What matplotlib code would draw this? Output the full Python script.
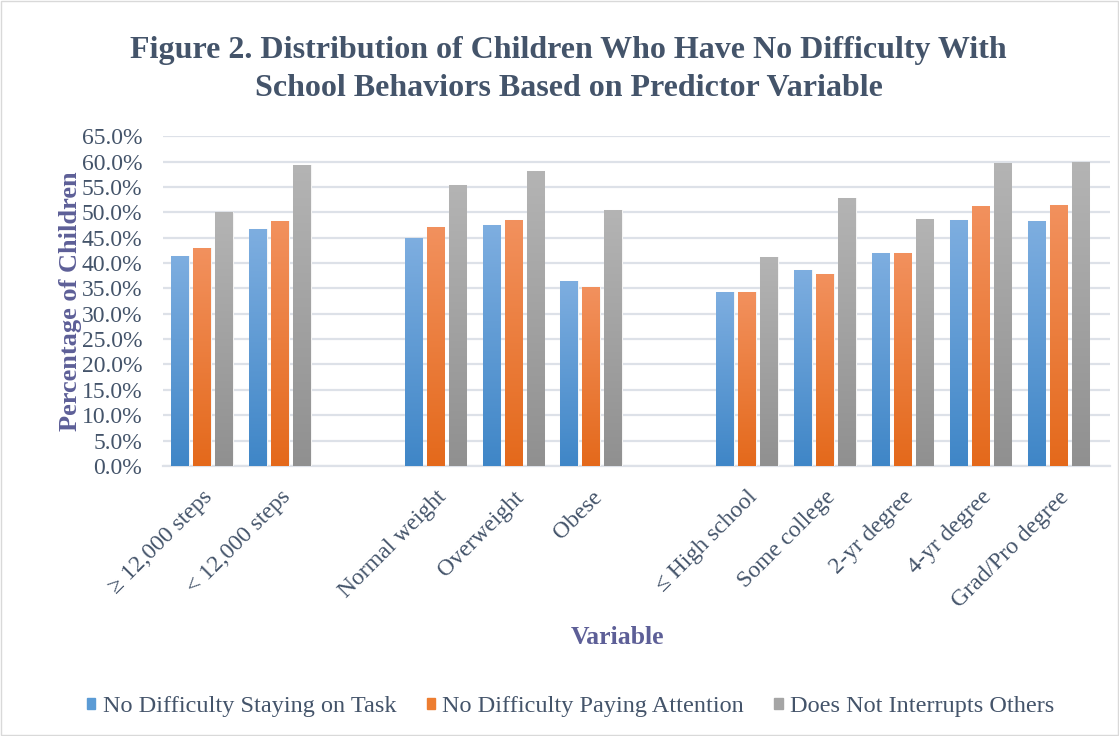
import numpy as np
import matplotlib
matplotlib.use('Agg')
import matplotlib.pyplot as plt
from matplotlib.colors import LinearSegmentedColormap
from matplotlib.patches import Rectangle


categories = ['≥ 12,000 steps', '< 12,000 steps', '',
              'Normal weight', 'Overweight', 'Obese', '',
              '≤ High school', 'Some college', '2-yr degree', '4-yr degree', 'Grad/Pro degree']
series_names = ['No Difficulty Staying on Task', 'No Difficulty Paying Attention',
                'Does Not Interrupts Others']
on_task = [41.4, 46.6, None, 45.0, 47.4, 36.4, None, 34.3, 38.7, 42.0, 48.4, 48.3]
attention = [42.9, 48.3, None, 47.1, 48.4, 35.2, None, 34.3, 37.9, 42.0, 51.2, 51.4]
interrupts = [50.0, 59.4, None, 55.4, 58.1, 50.4, None, 41.2, 52.9, 48.7, 59.8, 59.9]
y_ticks = np.arange(0, 66, 5)

# top / bottom colours of each bar gradient
grad_colors = [('#7eaee0', '#3f86c7'), ('#f2915e', '#e4691b'), ('#b4b4b4', '#909090')]
legend_colors = ['#5b9bd5', '#ed7d31', '#a5a5a5']

text_color = '#44546a'
axis_title_color = '#5d5f97'
serif = ['Liberation Serif', 'DejaVu Serif']

plt.rcParams['font.family'] = serif

fig = plt.figure(figsize=(11.19, 7.36), dpi=100)
ax = fig.add_axes([0.1457, 0.367, 0.846, 0.448])

x = np.arange(len(categories))
bw = 0.225
gap = 0.058
all_series = [on_task, attention, interrupts]
x_lim = (-0.5, 11.66)

ax.set_xlim(*x_lim)
ax.set_ylim(0, 65)

for i, vals in enumerate(all_series):
    offs = (i - 1) * (bw + gap)
    xs = [xx + offs for xx, v in zip(x, vals) if v is not None]
    hs = [v for v in vals if v is not None]
    bars = ax.bar(xs, hs, width=bw, color=legend_colors[i], edgecolor='#f4f4f4',
                  linewidth=0.8, zorder=3, label=series_names[i])
    # vertical gradient, lighter at the top
    cmap = LinearSegmentedColormap.from_list('g%d' % i, [grad_colors[i][1], grad_colors[i][0]])
    grad = np.linspace(0, 1, 256).reshape(-1, 1)
    for b in bars:
        bx, by = b.get_x(), b.get_y()
        w, h = b.get_width(), b.get_height()
        im = ax.imshow(grad, cmap=cmap, origin='lower', aspect='auto',
                       extent=[bx, bx + w, by, by + h], zorder=3.5)
        im.set_clip_path(b)

ax.set_xlim(*x_lim)
ax.set_ylim(0, 65)

ax.set_yticks(y_ticks)
ax.set_yticklabels(['%.1f%%' % t for t in y_ticks])
ax.yaxis.grid(True, color='#dde1e8', linewidth=1.6, zorder=0)
ax.set_axisbelow(True)
for s in ['top', 'right', 'left']:
    ax.spines[s].set_visible(False)
ax.spines['bottom'].set_color('#dde1e8')
ax.spines['bottom'].set_linewidth(1.6)
ax.tick_params(axis='both', length=0, labelsize=17, colors=text_color)
ax.tick_params(axis='y', pad=15)

ax.set_xticks(x)
ax.set_xticklabels(categories, rotation=45, ha='right', rotation_mode='anchor')
ax.tick_params(axis='x', pad=15)

ax.set_ylabel('Percentage of Children', fontsize=19, fontweight='bold',
              color=axis_title_color, labelpad=0)
fig.text(0.552, 0.134, 'Variable', fontsize=18.5, fontweight='bold',
         color=axis_title_color, ha='center', va='center')

fig.text(0.508, 0.932, 'Figure 2. Distribution of Children Who Have No Difficulty With',
         fontsize=23, fontweight='bold', color=text_color, ha='center', va='center')
fig.text(0.508, 0.880, 'School Behaviors Based on Predictor Variable',
         fontsize=23, fontweight='bold', color=text_color, ha='center', va='center')

handles = [Rectangle((0, 0), 1, 1, color=c) for c in legend_colors]
fig.legend(handles, series_names, loc='center', bbox_to_anchor=(0.51, 0.04),
           ncol=3, frameon=False, prop={'family': serif, 'size': 17.5},
           handlelength=0.35, handleheight=0.35,
           handletextpad=0.3, columnspacing=1.25, labelcolor=text_color)

fig.patches.append(Rectangle((0.001, 0.001), 0.998, 0.998, transform=fig.transFigure,
                             fill=False, edgecolor='#d9d9d9', linewidth=1))

fig.savefig('out.png', dpi=100)
